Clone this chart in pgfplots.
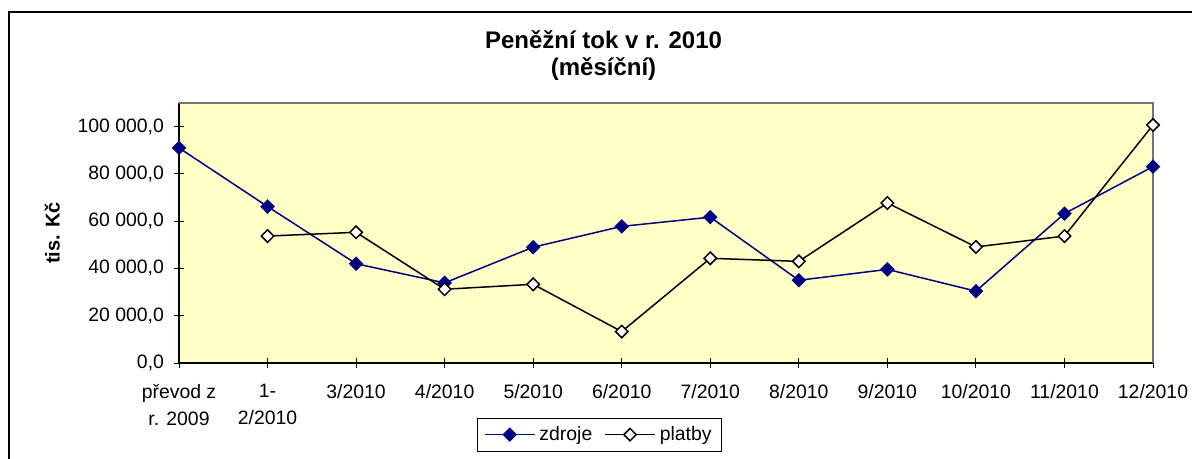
\documentclass[border=0pt]{standalone}
\usepackage{pgfplots}
\pgfplotsset{compat=1.18}
\usepackage{fontspec}
\setmainfont{Liberation Sans}
\definecolor{navy}{RGB}{0,0,128}
\definecolor{plotbg}{RGB}{255,255,200}
\begin{document}
\begin{tikzpicture}
\path[use as bounding box] (0,0) rectangle (596pt,-229.5pt);
\draw[line width=0.8pt] (4.5pt,-240pt) -- (4.5pt,-6pt) -- (600pt,-6pt);
\node[anchor=base,font=\fontsize{12}{13}\selectfont\bfseries] at (301.75pt,-24.3pt) {Peněžní tok v r. 2010};
\node[anchor=base,font=\fontsize{12}{13}\selectfont\bfseries] at (301.75pt,-38pt) {(měsíční)};
\begin{axis}[
  at={(89.5pt,-181.5pt)}, anchor=south west,
  scale only axis, width=487pt, height=130pt,
  xmin=0, xmax=11, ymin=0, ymax=110000,
  scaled y ticks=false,
  axis background/.style={fill=plotbg},
  axis line style={black, line width=0.6pt},
  axis x line*=bottom, axis y line*=left,
  xtick={0,...,11},
  xticklabels={{převod z\\r. 2009},{1-\\2/2010},3/2010,4/2010,5/2010,6/2010,7/2010,8/2010,9/2010,10/2010,11/2010,12/2010},
  ytick={0,20000,40000,60000,80000,100000},
  yticklabels={{0,0},{20 000,0},{40 000,0},{60 000,0},{80 000,0},{100 000,0}},
  tick align=center, major tick length=5pt,
  tick style={black, line width=0.5pt},
  ticklabel style={font=\fontsize{9.7}{13.5}\selectfont},
  xticklabel style={align=center, yshift=-4.5pt},
  yticklabel style={xshift=-1.5pt},
  ylabel={tis. Kč},
  ylabel style={font=\fontsize{10}{12}\selectfont\bfseries, at={(axis description cs:-0.130,0.5)}, anchor=center},
  legend style={at={(axis description cs:0.432,-0.21)}, anchor=north, draw=black, fill=white, line width=0.5pt,
    font=\fontsize{9.7}{11}\selectfont, legend columns=2,
    /tikz/every even column/.append style={column sep=4pt}},
  legend image code/.code={\draw[mark repeat=2,mark phase=2] plot coordinates {(0pt,0pt) (12.5pt,0pt) (25pt,0pt)};},
  clip=false,
]
\draw[gray!90!black, line width=0.9pt] (axis cs:0,110000) -- (axis cs:11,110000) -- (axis cs:11,0);
\addplot[navy, line width=0.75pt, mark=square*, mark size=2.2pt, mark options={rotate=45, fill=navy, draw=navy}]
coordinates {(0,91000) (1,66200) (2,42000) (3,33900) (4,49000) (5,57800) (6,61700) (7,35000) (8,39600) (9,30400) (10,63200) (11,83100)};
\addlegendentry{zdroje}
\addplot[black, line width=0.75pt, mark=square*, mark size=2.2pt, mark options={rotate=45, fill=white, draw=black}]
coordinates {(1,53700) (2,55300) (3,31200) (4,33300) (5,13300) (6,44300) (7,43000) (8,67700) (9,49100) (10,53700) (11,100700)};
\addlegendentry{platby}
\end{axis}
\end{tikzpicture}
\end{document}
